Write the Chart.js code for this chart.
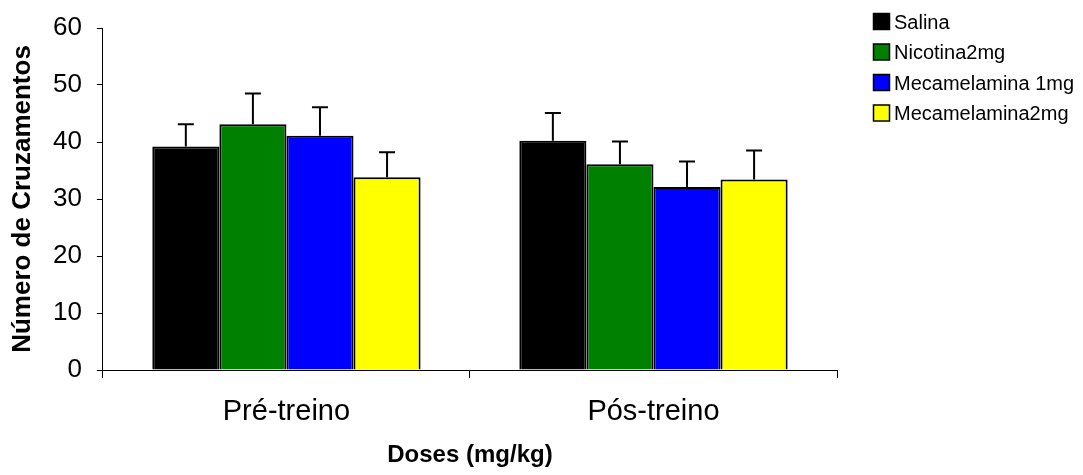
<!DOCTYPE html>
<html><head><meta charset="utf-8">
<script src="https://cdn.jsdelivr.net/npm/chart.js@4"></script>
<style>html,body{margin:0;padding:0;background:#fff}</style>
</head><body>
<canvas id="c" width="1083" height="475"></canvas>
<script>
const categories = ['Pré-treino', 'Pós-treino'];
const seriesNames = ['Salina', 'Nicotina2mg', 'Mecamelamina 1mg', 'Mecamelamina2mg'];
const seriesColors = ['#000000', '#008000', '#0000FF', '#FFFF00'];
const salina = [39.2, 40.2];
const nicotina2mg = [43.1, 36.1];
const mecamelamina1mg = [41.1, 32.1];
const mecamelamina2mg = [33.8, 33.4];
const salinaErr = [3.9, 4.9];
const nicotina2mgErr = [5.4, 4.0];
const mecamelamina1mgErr = [5.0, 4.5];
const mecamelamina2mgErr = [4.4, 5.1];
const yTicks = [0, 10, 20, 30, 40, 50, 60];
const yTitle = 'Número de Cruzamentos';
const xTitle = 'Doses (mg/kg)';

const seriesValues = [salina, nicotina2mg, mecamelamina1mg, mecamelamina2mg];
const seriesErrors = [salinaErr, nicotina2mgErr, mecamelamina1mgErr, mecamelamina2mgErr];
const FONT = "'Liberation Sans', Arial, sans-serif";

const errorBars = {
  id: 'errorBars',
  afterDatasetsDraw(chart) {
    const ctx = chart.ctx;
    const y = chart.scales.y;
    ctx.save();
    ctx.strokeStyle = '#000';
    ctx.lineWidth = 2;
    chart.data.datasets.forEach((ds, i) => {
      const meta = chart.getDatasetMeta(i);
      meta.data.forEach((bar, j) => {
        const top = y.getPixelForValue(ds.data[j] + ds.errors[j]);
        const base = bar.y;
        ctx.beginPath();
        ctx.moveTo(bar.x, base);
        ctx.lineTo(bar.x, top);
        ctx.moveTo(bar.x - 8, top);
        ctx.lineTo(bar.x + 8, top);
        ctx.stroke();
      });
    });
    ctx.restore();
  }
};

const sideLegend = {
  id: 'sideLegend',
  afterDraw(chart) {
    const ctx = chart.ctx;
    ctx.save();
    ctx.font = '20px ' + FONT;
    ctx.textBaseline = 'middle';
    ctx.textAlign = 'left';
    chart.data.datasets.forEach((ds, i) => {
      const cy = 22 + i * 30.5;
      ctx.fillStyle = ds.backgroundColor;
      ctx.fillRect(873.5, cy - 8.5, 16, 16);
      ctx.strokeStyle = '#000';
      ctx.lineWidth = 1.5;
      ctx.strokeRect(873.5, cy - 8.5, 16, 16);
      ctx.fillStyle = '#000';
      ctx.fillText(ds.label, 894, cy + 1);
    });
    ctx.restore();
  }
};

new Chart(document.getElementById('c'), {
  type: 'bar',
  data: {
    labels: categories,
    datasets: seriesNames.map((name, i) => ({
      label: name,
      data: seriesValues[i],
      errors: seriesErrors[i],
      backgroundColor: seriesColors[i],
      borderColor: '#000',
      borderWidth: 2,
      categoryPercentage: 0.731,
      barPercentage: 1.0
    }))
  },
  options: {
    responsive: false,
    animation: false,
    devicePixelRatio: 1,
    layout: { padding: { top: 25, right: 246, left: 0, bottom: 0 } },
    plugins: { legend: { display: false }, tooltip: { enabled: false } },
    scales: {
      x: {
        grid: { display: true, drawOnChartArea: false, drawTicks: true, tickLength: 8, color: '#000', offset: true },
        border: { display: true, color: '#000', width: 1 },
        ticks: { color: '#000', font: { family: FONT, size: 29, lineHeight: 1.0 }, padding: 19.5 },
        title: { display: true, text: xTitle, color: '#000', font: { family: FONT, size: 24, weight: 'bold', lineHeight: 1.0 }, padding: { top: -3, bottom: 8 } }
      },
      y: {
        min: 0, max: 60,
        afterBuildTicks(scale) { scale.ticks = yTicks.map(v => ({ value: v })); },
        grid: { display: true, drawOnChartArea: false, drawTicks: true, tickLength: 6, color: '#000' },
        border: { display: true, color: '#000', width: 1 },
        ticks: { color: '#000', font: { family: FONT, size: 26, lineHeight: 1.0 }, padding: 15 },
        title: { display: true, text: yTitle, color: '#000', font: { family: FONT, size: 26, weight: 'bold', lineHeight: 1.0 }, padding: { top: 10, bottom: 2 } }
      }
    }
  },
  plugins: [errorBars, sideLegend]
});
</script>
</body></html>
